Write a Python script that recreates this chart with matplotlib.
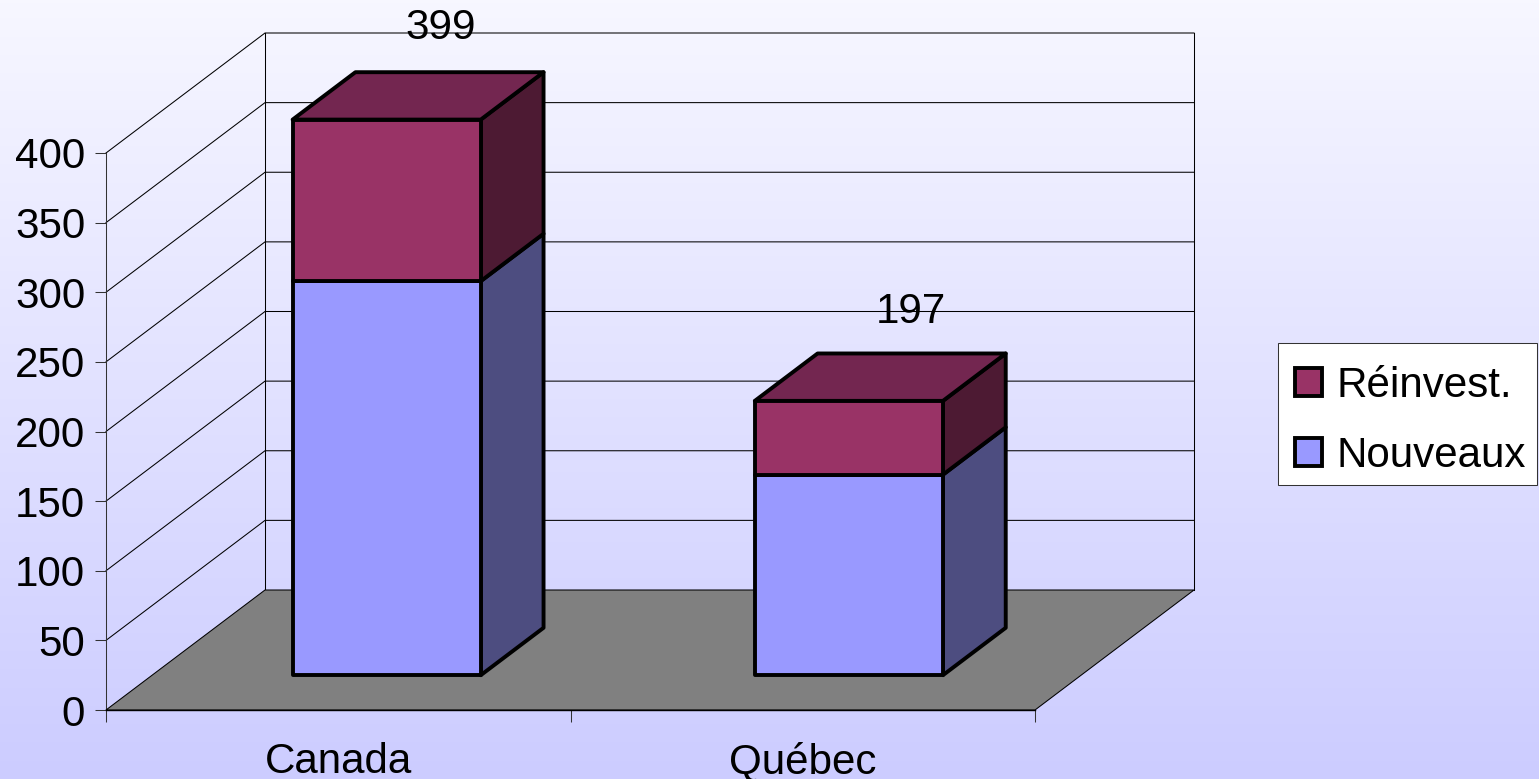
import numpy as np
import matplotlib
matplotlib.use("Agg")
import matplotlib.pyplot as plt
from matplotlib.patches import Polygon, Patch, Rectangle

plt.rcParams['font.family'] = ['Liberation Sans', 'DejaVu Sans']

categories = ["Canada", "Québec"]
nouveaux = [283, 144]
reinvest = [116, 53]
totals = [399, 197]
y_ticks = [0, 50, 100, 150, 200, 250, 300, 350, 400]

W, H = 1539, 779
FS = 30.3
fig = plt.figure(figsize=(W/100, H/100), dpi=100)

bg = fig.add_axes([0, 0, 1, 1], zorder=-1)
bg.axis('off')
top = np.array([0xF7, 0xF7, 0xFF]) / 255
bot = np.array([0xCC, 0xCC, 0xFF]) / 255
t = np.linspace(0, 1, 256)[:, None, None]
bg.imshow(top * (1 - t) + bot * t, aspect='auto', extent=[0, 1, 0, 1])

# Front plane of the chart: x 106..1035 px, y 710..153 px
L, R, B, T = 106, 1035, 710, 153
ax = fig.add_axes([L/W, 1 - B/H, (R-L)/W, (B-T)/H])
ax.patch.set_alpha(0)
ax.set_xlim(0, 2)
ax.set_ylim(0, 400)

PX_X = (R - L) / 2
PX_Y = (B - T) / 400
DX, DY = 159 / PX_X, 120 / PX_Y   # depth 1 -> back wall


def P(x, y, d):
    return (x + DX * d, y + DY * d)


def face(pts, fc, lw, zorder, ec='black'):
    ax.add_patch(Polygon([P(*p) for p in pts], closed=True, fc=fc, ec=ec, lw=lw,
                         clip_on=False, zorder=zorder, joinstyle='round'))


thin = 0.75
# floor
face([(0, 0, 0), (2, 0, 0), (2, 0, 1), (0, 0, 1)], '#808080', thin, 1)
# walls and grid
for v in y_ticks:
    a, b, c = P(0, v, 0), P(0, v, 1), P(2, v, 1)
    if v > 0:
        ax.plot([a[0], b[0], c[0]], [a[1], b[1], c[1]], color='black', lw=thin,
                clip_on=False, zorder=0.5)
for x in (0, 2):
    a, b = P(x, 0, 1), P(x, 400, 1)
    ax.plot([a[0], b[0]], [a[1], b[1]], color='black', lw=thin, clip_on=False, zorder=0.5)

# bars
centers = [0.505, 1.5]
bw = 0.405
d0, d1 = 0.29, 0.685
blw = 2.8
series = [
    (nouveaux, '#9999FF', '#4D4D80', '#4D4D80'),
    (reinvest, '#993366', '#4D1A33', '#732650'),
]
for c, i in zip(centers, range(len(categories))):
    base = 0
    x0, x1 = c - bw/2, c + bw/2
    for vals, front, side, topc in series:
        v = vals[i]
        face([(x1, base, d0), (x1, base, d1), (x1, base+v, d1), (x1, base+v, d0)], side, blw, 3)
        face([(x0, base, d0), (x1, base, d0), (x1, base+v, d0), (x0, base+v, d0)], front, blw, 4)
        base += v
    face([(x0, base, d0), (x1, base, d0), (x1, base, d1), (x0, base, d1)], topc, blw, 3)

# value labels
label_offsets = [(54, 92), (62, 89)]
for c, tot, off in zip(centers, totals, label_offsets):
    xy = P(c, tot, d0)
    ax.annotate(str(tot), xy=xy, xytext=(off[0]*0.72, off[1]*0.72), textcoords='offset points',
                ha='center', va='center', fontsize=FS, color='black', zorder=6,
                annotation_clip=False)

# axes
for s in ('top', 'right'):
    ax.spines[s].set_visible(False)
ax.spines['left'].set_linewidth(thin)
ax.spines['left'].set_color('#333333')
ax.spines['left'].set_zorder(0.6)
ax.spines['bottom'].set_linewidth(1)
ax.spines['bottom'].set_zorder(2)
ax.set_yticks(y_ticks)
ax.set_yticklabels([str(v) for v in y_ticks], fontsize=FS)
ax.tick_params(axis='y', length=8, width=thin, color='#333333', pad=7)
ax.set_xticks([0, 1, 2])
ax.set_xticklabels([])
ax.tick_params(axis='x', which='major', length=8.6, width=thin, color='#333333')
ax.set_xticks([0.5, 1.5], minor=True)
ax.set_xticklabels(categories, minor=True, fontsize=FS)
ax.tick_params(axis='x', which='minor', length=0, pad=23)

# legend box and entries
fig.add_artist(Rectangle((1278/W, 1 - 485/H), 259/W, 142/H, transform=fig.transFigure,
                         fc='white', ec='#333333', lw=thin, zorder=5))
handles = [Patch(fc='#993366', ec='black', lw=2.8, label='Réinvest.'),
           Patch(fc='#9999FF', ec='black', lw=2.8, label='Nouveaux')]
leg = fig.legend(handles=handles, loc='lower left',
                 bbox_to_anchor=(1295/W, 1 - 476/H), bbox_transform=fig.transFigure,
                 fontsize=FS, frameon=False,
                 handlelength=0.64, handleheight=0.64, handletextpad=0.34, borderaxespad=0,
                 labelspacing=0.71, borderpad=0)
leg.set_zorder(6)

fig.savefig('out.png', dpi=100)
